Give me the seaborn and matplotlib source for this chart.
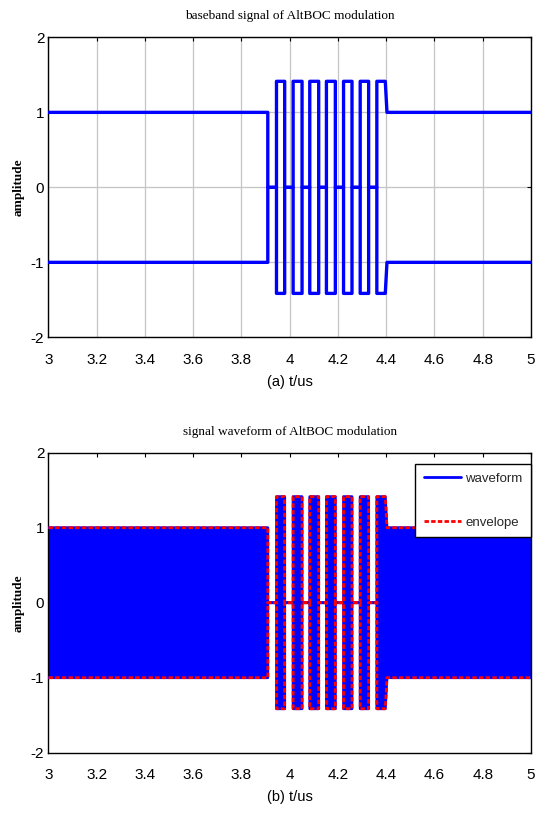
import numpy as np
import pandas as pd
import matplotlib
matplotlib.use("Agg")
import matplotlib.pyplot as plt
import seaborn as sns
from matplotlib.lines import Line2D

# ---- data ----
seg_start = [3.000, 3.909, 3.945, 3.979, 4.014, 4.051, 4.083, 4.120,
             4.152, 4.189, 4.223, 4.258, 4.292, 4.327, 4.361, 4.403]
seg_end = [3.909, 3.945, 3.979, 4.014, 4.051, 4.083, 4.120, 4.152,
           4.189, 4.223, 4.258, 4.292, 4.327, 4.361, 4.396, 5.000]
upper_level = [1.0, 0.0, 1.414, 0.0, 1.414, 0.0, 1.414, 0.0,
               1.414, 0.0, 1.414, 0.0, 1.414, 0.0, 1.414, 1.0]
lower_level = [-1.0, 0.0, -1.414, 0.0, -1.414, 0.0, -1.414, 0.0,
               -1.414, 0.0, -1.414, 0.0, -1.414, 0.0, -1.414, -1.0]

x_ticks = [3.0, 3.2, 3.4, 3.6, 3.8, 4.0, 4.2, 4.4, 4.6, 4.8, 5.0]
x_tick_labels = ["3", "3.2", "3.4", "3.6", "3.8", "4", "4.2", "4.4", "4.6", "4.8", "5"]
y_ticks = [-2, -1, 0, 1, 2]
y_tick_labels = ["-2", "-1", "0", "1", "2"]

titles = ["baseband signal of AltBOC modulation", "signal waveform of AltBOC modulation"]
xlabels = ["(a) t/us", "(b) t/us"]
ylabel = "amplitude"
legend_labels = ["waveform", "envelope"]


def step_path(starts, ends, levels):
    xs, ys = [], []
    for s, e, v in zip(starts, ends, levels):
        xs += [s, e]
        ys += [v, v]
    return pd.DataFrame({"t": xs, "amp": ys})


up = step_path(seg_start, seg_end, upper_level)
low = step_path(seg_start, seg_end, lower_level)

sns.set_theme(style="white")
SANS = ["Liberation Sans", "DejaVu Sans"]
SERIF = ["Liberation Serif", "DejaVu Serif"]
plt.rcParams["font.family"] = SANS

BLUE = "#0000ff"
RED = "#ff0000"
DASH = (0, (1.6, 0.8))

fig = plt.figure(figsize=(5.43, 8.16), dpi=100)
ax1 = fig.add_axes([0.0893, 0.5866, 0.8886, 0.3676])
ax2 = fig.add_axes([0.0893, 0.0776, 0.8886, 0.3676])

# top: baseband
for df in (up, low):
    sns.lineplot(data=df, x="t", y="amp", estimator=None, sort=False,
                 color=BLUE, lw=2.4, ax=ax1, zorder=3)
ax1.grid(True, color="#c4c4c4", lw=0.9, ls="-")
ax1.set_axisbelow(True)

# bottom: waveform + envelope
ax2.fill_between(up["t"], low["amp"], up["amp"], color=BLUE, lw=0, zorder=2)
for df in (up, low):
    sns.lineplot(data=df, x="t", y="amp", estimator=None, sort=False,
                 color=BLUE, lw=2.0, ax=ax2, zorder=3)
for df in (up, low):
    sns.lineplot(data=df, x="t", y="amp", estimator=None, sort=False,
                 color=RED, lw=2.0, linestyle=DASH, ax=ax2, zorder=4)
ax2.grid(False)

handles = [Line2D([], [], color=BLUE, lw=2.0),
           Line2D([], [], color=RED, lw=2.0, linestyle=DASH)]
leg = ax2.legend(handles, legend_labels, loc="upper right",
                 bbox_to_anchor=(1.0, 0.963), borderaxespad=0.0,
                 frameon=True, fancybox=False, edgecolor="black",
                 framealpha=1.0, facecolor="white",
                 fontsize=9.5, handlelength=2.8, handletextpad=0.35,
                 labelspacing=2.4, borderpad=0.65)
leg.get_frame().set_linewidth(1.0)
leg.set_zorder(10)

for i, ax in enumerate((ax1, ax2)):
    ax.set_xlim(3, 5)
    ax.set_ylim(-2, 2)
    ax.set_xticks(x_ticks)
    ax.set_xticklabels(x_tick_labels)
    ax.set_yticks(y_ticks)
    ax.set_yticklabels(y_tick_labels)
    ax.tick_params(direction="in", length=3, width=0.8, top=True, right=True,
                   labelsize=11, colors="black", pad=3)
    ax.tick_params(axis="x", pad=11)
    for sp in ax.spines.values():
        sp.set_visible(True)
        sp.set_color("black")
        sp.set_linewidth(1.0)
    ax.set_title(titles[i], fontsize=9.5, family=SERIF, pad=13, color="black")
    ax.set_xlabel(xlabels[i], fontsize=10.5, color="black")
    ax.xaxis.set_label_coords(0.5, -0.125)
    ax.set_ylabel(ylabel, fontsize=9.5, family=SERIF, fontweight="bold", color="black")
    ax.yaxis.set_label_coords(-0.05, 0.5)
    ax.set_facecolor("white")

fig.savefig("out.png", dpi=100, facecolor="white")
